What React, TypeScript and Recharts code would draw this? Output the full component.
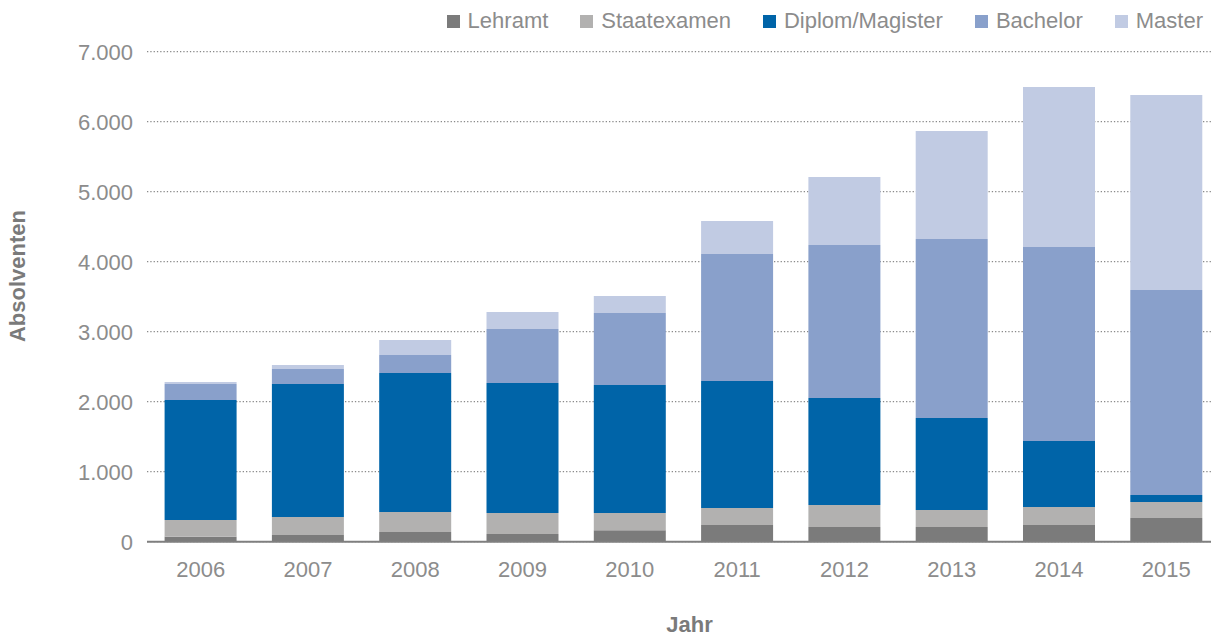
import React from 'react';
import { BarChart, Bar, XAxis, YAxis, CartesianGrid, Label } from 'recharts';

const years = ['2006', '2007', '2008', '2009', '2010', '2011', '2012', '2013', '2014', '2015'];
const lehramt = [70, 95, 140, 110, 165, 240, 210, 210, 240, 340];
const staatexamen = [240, 257, 284, 300, 245, 241, 314, 242, 255, 227];
const diplom = [1714, 1900, 1986, 1857, 1828, 1814, 1528, 1315, 943, 100];
const bachelor = [229, 215, 257, 771, 1029, 1815, 2186, 2557, 2772, 2928];
const master = [28, 57, 214, 243, 243, 471, 972, 1543, 2285, 2786];
const yTicks = [0, 1000, 2000, 3000, 4000, 5000, 6000, 7000];

const seriesNames = ['Lehramt', 'Staatexamen', 'Diplom/Magister', 'Bachelor', 'Master'];
const seriesKeys = ['lehramt', 'staatexamen', 'diplom', 'bachelor', 'master'];
const seriesColors = ['#7b7b7b', '#b2b1b0', '#0064a8', '#89a0cb', '#c1cbe3'];

const data = years.map((y, i) => ({
  year: y,
  lehramt: lehramt[i],
  staatexamen: staatexamen[i],
  diplom: diplom[i],
  bachelor: bachelor[i],
  master: master[i],
}));

const FONT = '"Liberation Sans", Arial, Helvetica, sans-serif';
const TEXT = '#8c8c8c';
const LABEL = '#7a7a7a';

const fmt = (v: number) => {
  const s = String(Math.round(v));
  return s.replace(/\B(?=(\d{3})+(?!\d))/g, '.');
};

const YLabel = (props: any) => {
  const vb = props.viewBox || {};
  const x = (vb.x ?? 0) + 25;
  const y = 276;
  return (
    <text
      x={x}
      y={y}
      transform={`rotate(-90 ${x} ${y})`}
      textAnchor="middle"
      fontFamily={FONT}
      fontSize={22}
      fontWeight="bold"
      fill={LABEL}
    >
      Absolventen
    </text>
  );
};

const XLabel = (props: any) => {
  const vb = props.viewBox || {};
  const x = (vb.x ?? 0) + (vb.width ?? 0) / 2 + 6;
  const y = (vb.y ?? 0) + (vb.height ?? 0) - 4;
  return (
    <text x={x} y={y} textAnchor="middle" fontFamily={FONT} fontSize={22} fontWeight="bold" fill={LABEL}>
      Jahr
    </text>
  );
};

export default function App() {
  return (
    <div
      style={{
        position: 'absolute',
        left: 0,
        top: 0,
        width: 1211,
        height: 636,
        overflow: 'hidden',
        background: '#fff',
        fontFamily: FONT,
      }}
    >
      <BarChart
        width={1220}
        height={636}
        data={data}
        margin={{ top: 51.7, right: 0, bottom: 0, left: 0 }}
        barCategoryGap="16.4%"
      >
        <CartesianGrid
          horizontal={true}
          vertical={false}
          stroke="#8a8a8a"
          strokeWidth={1.3}
          strokeDasharray="1.3 2"
        />
        {seriesKeys.map((k, i) => (
          <Bar
            key={k}
            dataKey={k}
            name={seriesNames[i]}
            stackId="a"
            fill={seriesColors[i]}
            isAnimationActive={false}
          />
        ))}
        <XAxis
          dataKey="year"
          height={94.3}
          tickLine={false}
          tickSize={0}
          tickMargin={20}
          axisLine={{ stroke: '#7f7f7f', strokeWidth: 2 }}
          tick={{ fill: TEXT, fontSize: 22, fontFamily: FONT }}
        >
          <Label content={<XLabel />} />
        </XAxis>
        <YAxis
          width={147}
          domain={[0, 7000]}
          ticks={yTicks}
          interval={0}
          tickFormatter={fmt}
          axisLine={false}
          tickLine={false}
          tickSize={0}
          tickMargin={14}
          tick={{ fill: TEXT, fontSize: 22, fontFamily: FONT }}
        >
          <Label content={<YLabel />} />
        </YAxis>
      </BarChart>
      <div
        style={{
          position: 'absolute',
          top: 9,
          right: 8,
          height: 24,
          display: 'flex',
          alignItems: 'center',
          fontSize: 22,
          color: TEXT,
          whiteSpace: 'nowrap',
        }}
      >
        {seriesNames.map((n, i) => (
          <div key={n} style={{ display: 'flex', alignItems: 'center', marginLeft: i === 0 ? 0 : 32 }}>
            <span style={{ width: 13, height: 13, background: seriesColors[i], display: 'inline-block', marginRight: 8 }} />
            <span>{n}</span>
          </div>
        ))}
      </div>
    </div>
  );
}
